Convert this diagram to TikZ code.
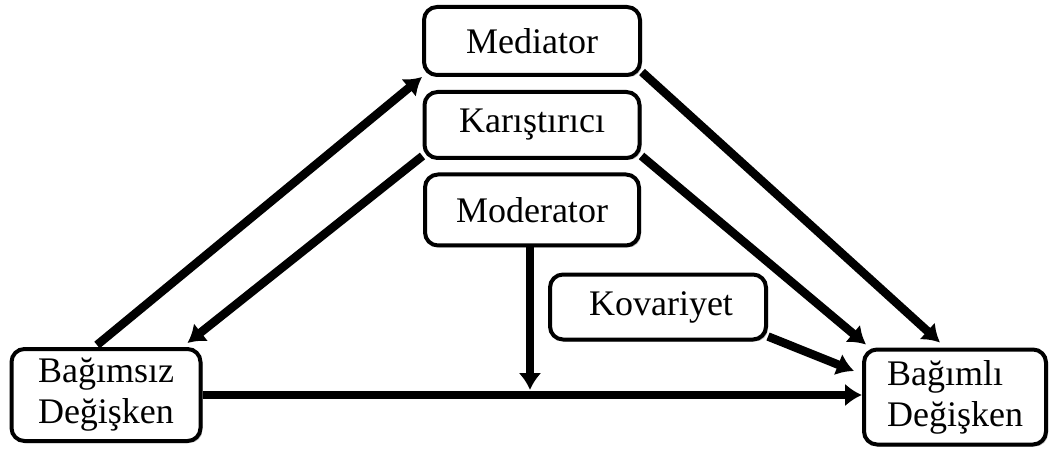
\documentclass[tikz,border=0pt]{standalone}
\usepackage{fontspec}
\setmainfont{Liberation Serif}
\usetikzlibrary{arrows.meta,calc,shadows}
\begin{document}
\begin{tikzpicture}[x=1pt,y=-1pt,
  box/.style={draw,line width=4pt,rounded corners=13pt,fill=white,
    inner sep=0pt,font=\fontsize{36}{41}\selectfont,
    drop shadow={shadow xshift=2pt,shadow yshift=-2pt,fill=black!45,opacity=0.6}},
  link/.style={line width=8.5pt,-{Latex[length=17pt,width=23pt]}}]
\useasboundingbox (0,0) rectangle (1051,454);
% upper column of three boxes
\node[box,minimum width=216pt,minimum height=68pt] (med) at (532,41) {Mediator};
\node[box,minimum width=215pt,minimum height=66pt] (kar) at (532,125) {Karıştırıcı};
\node[box,minimum width=214pt,minimum height=71pt] (mod) at (532,210) {Moderator};
\node[box,minimum width=216pt,minimum height=65pt] (kov) at (658,307) {\hspace{6pt}Kovariyet};
% the two variables
\node[box,minimum width=189pt,minimum height=92pt,align=left] (bgs) at (106,395) {Bağımsız\\Değişken};
\node[box,minimum width=182pt,minimum height=95pt,align=left] (bgl) at (955,397) {Bağımlı\\Değişken};
% connectors
\draw[link] ($(bgs.north)+(-9,-2)$) -- (med.south west);
\draw[link] ($(kar.south west)+(0,-4)$) -- ($(bgs.north east)+(-15,-4)$);
\draw[link] ($(med.south east)+(0,-5)$) -- ($(bgl.north)+(-15,-5)$);
\draw[link] ($(kar.south east)+(0,-4)$) -- ($(bgl.north west)+(4,-3)$);
\draw[link] ($(kov.south east)+(0,-5)$) -- ($(bgl.west)+(-8,-26)$);
\draw[link] (bgs.east) -- (bgs.east -| bgl.west);
\draw[link] ($(mod.south)+(-2,0)$) -- ($(mod.south |- bgs.east)+(-2,-5)$);
\end{tikzpicture}
\end{document}
